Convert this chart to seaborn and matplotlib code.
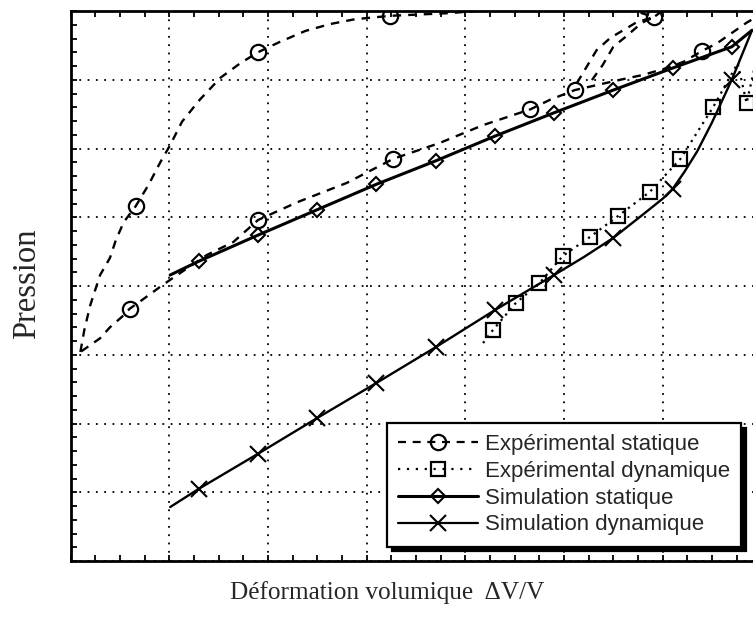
import matplotlib
matplotlib.use("Agg")
import matplotlib.pyplot as plt
from matplotlib.lines import Line2D
from matplotlib.ticker import MultipleLocator
import pandas as pd
import seaborn as sns

# ---------------- data (volumetric strain, pressure) ----------------
# Expérimental statique: upper branch, loading branch and the small unload/reload loop
exp_stat_upper_x = [0.10, 0.14, 0.20, 0.30, 0.40, 0.46, 0.54, 0.66, 0.79, 0.91, 1.01, 1.13,
                    1.31, 1.52, 1.72, 1.90, 2.12, 2.38, 2.63, 2.88, 3.24, 3.85, 4.60, 5.60,
                    5.91, 6.05]
exp_stat_upper_y = [30.4, 33.6, 37.2, 41.6, 44.1, 46.7, 49.3, 51.6, 54.7, 58.0, 60.5, 63.9,
                    67.1, 70.3, 72.4, 74.0, 75.5, 77.1, 78.1, 78.8, 79.3, 79.7, 80.6, 80.6,
                    79.1, 80.6]
exp_stat_lower_x = [0.11, 0.30, 0.40, 0.52, 0.60, 0.70, 0.91, 1.01, 1.38, 1.65, 1.90, 2.30,
                    2.80, 3.27, 3.74, 4.18, 4.66, 4.86, 5.11, 5.57, 5.80, 6.04, 6.21, 6.40,
                    6.55, 6.71, 6.85, 6.98]
exp_stat_lower_y = [30.5, 32.4, 34.0, 35.5, 36.7, 37.7, 39.9, 40.9, 44.5, 46.4, 49.6, 52.2,
                    55.0, 58.5, 60.8, 63.4, 65.7, 67.1, 68.5, 70.0, 70.7, 71.7, 72.6, 74.2,
                    75.3, 76.9, 78.3, 79.4]
exp_stat_loop_x = [5.13, 5.23, 5.33, 5.47, 5.60, 5.74, 5.91, 5.79, 5.62, 5.50, 5.39, 5.26]
exp_stat_loop_y = [69.5, 71.9, 74.3, 76.1, 77.2, 78.4, 79.1, 78.3, 76.2, 74.8, 72.1, 69.5]
exp_stat_mark_x = [0.66, 1.90, 3.24, 5.91, 0.60, 1.90, 3.27, 4.66, 5.11, 6.40]
exp_stat_mark_y = [51.6, 74.0, 79.3, 79.1, 36.7, 49.6, 58.5, 65.7, 68.5, 74.2]

# Expérimental dynamique
exp_dyn_x = [4.18, 4.28, 4.51, 4.75, 4.99, 5.26, 5.55, 5.87, 6.18, 6.51, 6.76, 6.85, 6.95]
exp_dyn_y = [31.7, 33.6, 37.5, 40.4, 44.4, 47.1, 50.2, 53.7, 58.5, 66.0, 72.4, 66.6, 73.0]
exp_dyn_mark_x = [4.28, 4.51, 4.75, 4.99, 5.26, 5.55, 5.87, 6.18, 6.51, 6.85]
exp_dyn_mark_y = [33.6, 37.5, 40.4, 44.4, 47.1, 50.2, 53.7, 58.5, 66.0, 66.6]

# Simulation statique
sim_stat_x = [1.01, 1.3, 1.9, 2.5, 3.1, 3.7, 4.3, 4.9, 5.5, 6.1, 6.7, 6.905]
sim_stat_y = [41.6, 43.6, 47.4, 51.1, 54.8, 58.2, 61.8, 65.2, 68.5, 71.7, 74.8, 77.2]
sim_stat_mark_x = sim_stat_x[1:-1]
sim_stat_mark_y = sim_stat_y[1:-1]

# Simulation dynamique
sim_dyn_x = [1.01, 1.3, 1.9, 2.5, 3.1, 3.7, 4.3, 4.9, 5.2, 5.5, 5.80, 6.0, 6.1, 6.22, 6.35,
             6.5, 6.7, 6.905]
sim_dyn_y = [7.85, 10.5, 15.6, 20.8, 25.9, 31.1, 36.5, 41.6, 44.2, 47.0, 50.4, 52.7, 54.1,
             56.6, 59.6, 63.8, 70.0, 77.2]
sim_dyn_mark_x = [1.3, 1.9, 2.5, 3.1, 3.7, 4.3, 4.9, 5.5, 6.1, 6.7]
sim_dyn_mark_y = [10.5, 15.6, 20.8, 25.9, 31.1, 36.5, 41.6, 47.0, 54.1, 70.0]

labels = ["Expérimental statique", "Expérimental dynamique",
          "Simulation statique", "Simulation dynamique"]

# ---------------- style ----------------
sns.set_style("white")
plt.rcParams["font.family"] = ["Liberation Serif", "DejaVu Serif"]

DASH = (0, (3.6, 3.0))
DOT = (0, (1.0, 2.2))

fig = plt.figure(figsize=(7.53, 6.23), dpi=100)
ax = fig.add_axes([70.5 / 753, 62 / 623, 6.93 * 98.7 / 753, 550 / 623])

# experimental static curve, drawn piece by piece
stat_df = pd.concat([
    pd.DataFrame({"x": exp_stat_upper_x, "y": exp_stat_upper_y, "piece": 0}),
    pd.DataFrame({"x": exp_stat_lower_x, "y": exp_stat_lower_y, "piece": 1}),
    pd.DataFrame({"x": exp_stat_loop_x, "y": exp_stat_loop_y, "piece": 2}),
])
sns.lineplot(data=stat_df, x="x", y="y", units="piece", estimator=None, sort=False,
             color="black", linewidth=1.7, linestyle=DASH, ax=ax)
sns.lineplot(x=exp_stat_mark_x, y=exp_stat_mark_y, estimator=None, sort=False,
             color="black", linestyle="none", marker="o", markersize=11,
             markerfacecolor="none", markeredgecolor="black", markeredgewidth=1.6, ax=ax)

# experimental dynamic curve
sns.lineplot(x=exp_dyn_x, y=exp_dyn_y, estimator=None, sort=False,
             color="black", linewidth=1.6, linestyle=DOT, ax=ax)
sns.lineplot(x=exp_dyn_mark_x, y=exp_dyn_mark_y, estimator=None, sort=False,
             color="black", linestyle="none", marker="s", markersize=10,
             markerfacecolor="none", markeredgecolor="black", markeredgewidth=1.6, ax=ax)

# static simulation
sns.lineplot(x=sim_stat_x, y=sim_stat_y, estimator=None, sort=False,
             color="black", linewidth=2.2, ax=ax)
sns.lineplot(x=sim_stat_mark_x, y=sim_stat_mark_y, estimator=None, sort=False,
             color="black", linestyle="none", marker="D", markersize=7,
             markerfacecolor="none", markeredgecolor="black", markeredgewidth=1.5, ax=ax)

# dynamic simulation
sns.lineplot(x=sim_dyn_x, y=sim_dyn_y, estimator=None, sort=False,
             color="black", linewidth=1.7, ax=ax)
sns.lineplot(x=sim_dyn_mark_x, y=sim_dyn_mark_y, estimator=None, sort=False,
             color="black", linestyle="none", marker="x", markersize=11,
             markeredgecolor="black", markeredgewidth=1.5, ax=ax)

# ---------------- axes ----------------
ax.set_xlim(0, 6.93)
ax.set_ylim(0, 80)
ax.xaxis.set_major_locator(MultipleLocator(1))
ax.xaxis.set_minor_locator(MultipleLocator(0.25))
ax.yaxis.set_major_locator(MultipleLocator(10))
ax.yaxis.set_minor_locator(MultipleLocator(2))
ax.tick_params(which="both", direction="in", top=True, right=False, bottom=True, left=True,
               labelbottom=False, labelleft=False, length=4.5, width=1.3, color="black")
ax.grid(True, which="major", color="black", linestyle=(0, (1, 3.6)), linewidth=1.3)
ax.set_axisbelow(True)
for side in ("left", "bottom", "top"):
    ax.spines[side].set_linewidth(2.0)
    ax.spines[side].set_color("black")
ax.spines["right"].set_visible(False)
ax.set_xlabel("")
ax.set_ylabel("")

fig.text(387 / 753, 1 - 599 / 623, "Déformation volumique  \u0394V/V",
         ha="center", va="baseline", fontsize=18.2)
fig.text(27 / 753, 1 - 284 / 623, "Pression", rotation=90,
         ha="center", va="center", fontsize=23.5)

# ---------------- legend ----------------
handles = [
    Line2D([], [], color="black", linewidth=1.6, linestyle=DASH, marker="o", markersize=11,
           markerfacecolor="none", markeredgewidth=1.6),
    Line2D([], [], color="black", linewidth=1.6, linestyle=(0, (1.0, 3.0)), marker="s",
           markersize=10, markerfacecolor="none", markeredgewidth=1.6),
    Line2D([], [], color="black", linewidth=2.2, marker="D", markersize=7,
           markerfacecolor="none", markeredgewidth=1.5),
    Line2D([], [], color="black", linewidth=1.6, marker="x", markersize=11,
           markeredgewidth=1.5),
]
leg = ax.legend(handles, labels, loc="upper left",
                bbox_to_anchor=(387 / 753, 1 - 423 / 623), bbox_transform=fig.transFigure,
                borderaxespad=0, fancybox=False, framealpha=1, edgecolor="black",
                shadow={"ox": 3.5, "oy": -3.5, "color": "black", "alpha": 1},
                handlelength=3.6, handletextpad=0.3, labelspacing=0.26, borderpad=0.5,
                prop={"family": ["Liberation Sans", "DejaVu Sans"], "size": 16})
leg.get_frame().set_linewidth(1.6)

fig.savefig("out.png", dpi=100)
